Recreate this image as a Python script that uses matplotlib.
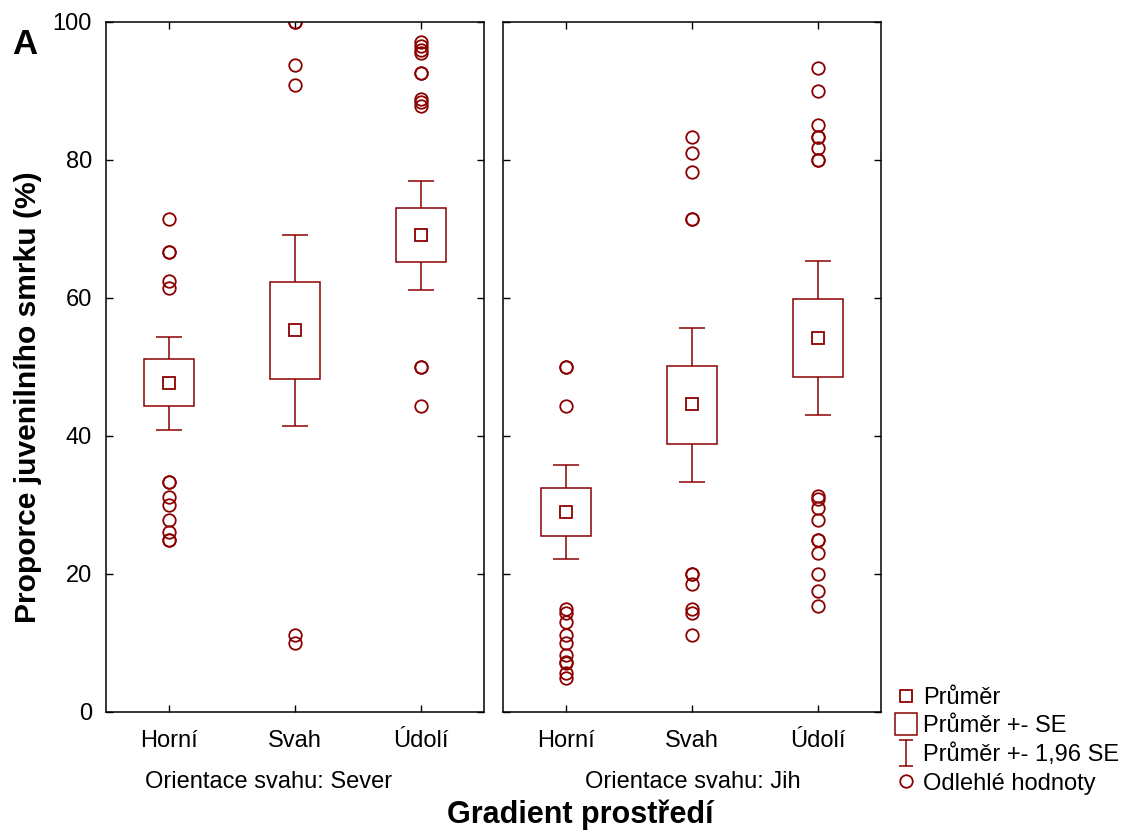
import matplotlib
matplotlib.use("Agg")
import matplotlib.pyplot as plt
from matplotlib.patches import Rectangle
from matplotlib.lines import Line2D
from matplotlib.path import Path

plt.rcParams["font.family"] = ["Liberation Sans", "DejaVu Sans"]

categories = ["Horní", "Svah", "Údolí"]
panel_titles = ["Orientace svahu: Sever", "Orientace svahu: Jih"]

sever_mean = [47.7, 55.4, 69.1]
sever_se_lo = [44.3, 48.3, 65.2]
sever_se_hi = [51.1, 62.3, 73.1]
sever_ci_lo = [40.9, 41.5, 61.2]
sever_ci_hi = [54.4, 69.2, 76.9]
sever_outliers = [
    [71.4, 66.7, 66.7, 62.5, 61.5, 33.3, 33.3, 31.2, 30.0, 27.8, 26.1, 25.0, 25.0],
    [100.0, 100.0, 93.8, 90.9, 11.1, 10.0],
    [97.1, 96.5, 96.0, 95.5, 92.6, 92.6, 88.9, 88.4, 87.8, 50.0, 50.0, 44.4],
]

jih_mean = [29.0, 44.6, 54.2]
jih_se_lo = [25.5, 38.9, 48.5]
jih_se_hi = [32.5, 50.2, 59.8]
jih_ci_lo = [22.2, 33.4, 43.0]
jih_ci_hi = [35.8, 55.7, 65.3]
jih_outliers = [
    [50.0, 50.0, 44.4, 15.0, 14.3, 13.0, 11.1, 10.0, 8.3, 7.3, 7.1, 5.6, 5.0],
    [83.3, 81.0, 78.2, 71.4, 71.4, 20.0, 20.0, 18.6, 15.0, 14.3, 11.1],
    [93.3, 90.0, 85.0, 83.3, 83.3, 81.8, 80.0, 80.0, 31.3, 30.8, 29.6, 27.8,
     25.0, 25.0, 23.1, 20.0, 17.6, 15.4],
]

RED = "#8b0000"
FS = 17


def draw_panel(ax, mean, se_lo, se_hi, ci_lo, ci_hi, outliers):
    for i in range(len(categories)):
        ax.add_patch(Rectangle((i - 0.2, se_lo[i]), 0.4, se_hi[i] - se_lo[i],
                               fill=False, edgecolor=RED, lw=1.1))
        ax.vlines(i, se_hi[i], ci_hi[i], color=RED, lw=1.1)
        ax.vlines(i, ci_lo[i], se_lo[i], color=RED, lw=1.1)
        ax.hlines([ci_lo[i], ci_hi[i]], i - 0.1, i + 0.1, color=RED, lw=1.1)
        ax.plot(i, mean[i], "s", ms=8.5, mfc="none", mec=RED, mew=1.3)
        ax.plot([i] * len(outliers[i]), outliers[i], "o", ms=9,
                mfc="none", mec=RED, mew=1.3)

    ax.set_xlim(-0.5, 2.5)
    ax.set_ylim(0, 100)
    ax.set_xticks(range(len(categories)))
    ax.set_xticklabels(categories, fontsize=FS)
    ax.set_yticks([0, 20, 40, 60, 80, 100])
    ax.tick_params(direction="in", length=5, width=1, top=True, right=True,
                   labelsize=FS)
    ax.tick_params(axis="x", pad=13)
    ax.tick_params(axis="y", pad=10)
    for s in ax.spines.values():
        s.set_linewidth(1.1)


fig = plt.figure(figsize=(11.31, 8.32), dpi=100)
ax1 = fig.add_axes([106 / 1131, 1 - 712 / 832, 378 / 1131, 690 / 832])
ax2 = fig.add_axes([503 / 1131, 1 - 712 / 832, 378 / 1131, 690 / 832])

draw_panel(ax1, sever_mean, sever_se_lo, sever_se_hi, sever_ci_lo,
           sever_ci_hi, sever_outliers)
draw_panel(ax2, jih_mean, jih_se_lo, jih_se_hi, jih_ci_lo,
           jih_ci_hi, jih_outliers)
ax2.tick_params(labelleft=False)

fig.text(269 / 1131, 1 - 782 / 832, panel_titles[0], fontsize=FS,
         ha="center", va="center")
fig.text(693 / 1131, 1 - 782 / 832, panel_titles[1], fontsize=FS,
         ha="center", va="center")

fig.text(28 / 1131, 1 - 397 / 832, "Proporce juvenilního smrku (%)",
         fontsize=21.6, fontweight="bold", rotation=90,
         ha="center", va="center")
fig.text(580 / 1131, 1 - 815 / 832, "Gradient prostředí", fontsize=22,
         fontweight="bold", ha="center", va="center")
fig.text(12 / 1131, 1 - 45 / 832, "A", fontsize=25, fontweight="bold",
         ha="left", va="center")

# legend
ibar = Path([(-0.5, 1), (0.5, 1), (0, 1), (0, -1), (-0.5, -1), (0.5, -1)],
            [Path.MOVETO, Path.LINETO, Path.MOVETO, Path.LINETO,
             Path.MOVETO, Path.LINETO])
handles = [
    Line2D([], [], ls="none", marker="s", ms=9, mfc="none", mec=RED, mew=1.3),
    Line2D([], [], ls="none", marker="s", ms=16, mfc="none", mec=RED, mew=1.1),
    Line2D([], [], ls="none", marker=ibar, ms=19, mec=RED, mew=1.1),
    Line2D([], [], ls="none", marker="o", ms=9, mfc="none", mec=RED, mew=1.3),
]
labels = ["Průměr", "Průměr +- SE", "Průměr +- 1,96 SE", "Odlehlé hodnoty"]
fig.legend(handles, labels, loc="upper left",
           bbox_to_anchor=(895 / 1131, 1 - 687 / 832), frameon=False,
           fontsize=FS, handlelength=0.9, handletextpad=0.3,
           labelspacing=0.27, borderpad=0, borderaxespad=0)

fig.savefig("out.png", dpi=100)
